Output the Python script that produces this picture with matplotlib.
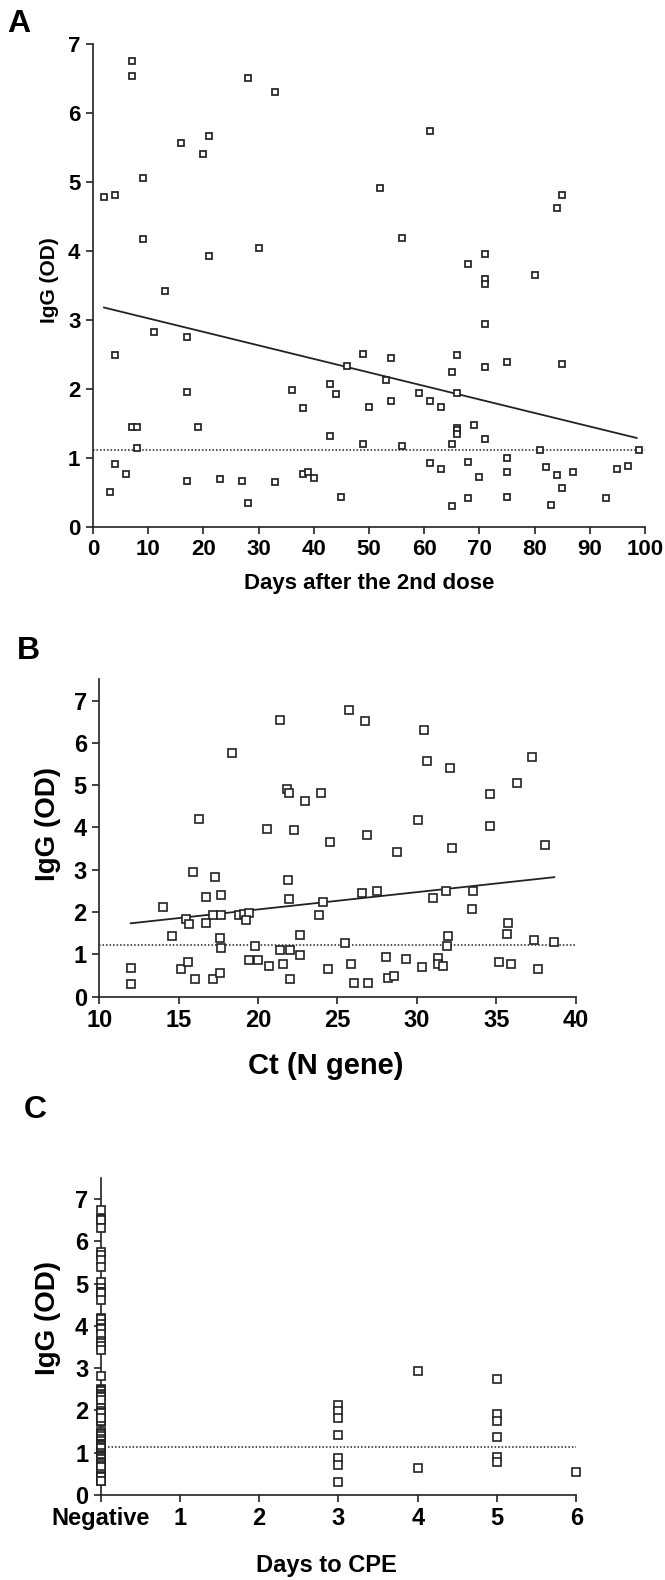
import numpy as np
import matplotlib.pyplot as plt

plt.rcParams['font.family'] = ['Liberation Sans', 'DejaVu Sans']
plt.rcParams['font.weight'] = 'bold'

# ---- panel A: IgG vs days after 2nd dose ----
a_days = [7, 7, 28, 33, 16, 21, 20, 9, 2, 4, 9, 21, 30, 13,
          61, 52, 85, 84, 56, 71, 68, 80, 71, 71,
          11, 17, 4, 17, 36, 43, 44, 38, 7, 8, 19, 43, 8, 4, 6, 3, 17, 23, 27,
          28, 33, 38, 39, 40, 45,
          71, 49, 54, 66, 75, 85, 46, 71, 65, 53, 59, 66, 61, 63, 54, 50, 69,
          66, 66, 66, 71, 49, 56, 65, 81, 99, 75, 61, 63, 68, 70, 75, 82, 84,
          87, 85, 95, 97, 68, 75, 65, 83, 93]
a_igg = [6.75, 6.53, 6.50, 6.31, 5.56, 5.67, 5.40, 5.05, 4.78, 4.81, 4.17, 3.93, 4.04, 3.42,
         5.74, 4.91, 4.81, 4.62, 4.19, 3.95, 3.81, 3.65, 3.59, 3.52,
         2.82, 2.75, 2.49, 1.95, 1.98, 2.07, 1.92, 1.73, 1.45, 1.45, 1.45, 1.32, 1.15, 0.91,
         0.77, 0.50, 0.66, 0.69, 0.66, 0.34, 0.65, 0.76, 0.79, 0.71, 0.43,
         2.94, 2.51, 2.45, 2.49, 2.39, 2.36, 2.33, 2.32, 2.24, 2.13, 1.94, 1.94, 1.83, 1.74,
         1.82, 1.74, 1.48, 1.44, 1.40, 1.35, 1.28, 1.20, 1.18, 1.20, 1.12, 1.12, 1.00, 0.92,
         0.84, 0.94, 0.72, 0.79, 0.87, 0.75, 0.79, 0.56, 0.84, 0.89, 0.42, 0.44, 0.31, 0.32, 0.42]
a_fit = (3.219, -0.01959)   # intercept, slope
a_cut = 1.12

# ---- panel B: IgG vs Ct (N gene) ----
b_ct = [21.38, 18.34, 25.72, 26.73, 30.47, 30.66, 32.10, 37.25, 36.30, 34.60, 34.62, 30.07,
        26.88, 28.75, 32.23, 38.05,
        21.84, 21.95, 22.97, 23.98, 16.28, 20.58, 22.28, 24.55,
        15.88, 17.31, 21.86, 16.72, 17.64, 21.95, 24.10, 14.01, 17.18, 17.66, 18.78, 19.11,
        19.45, 23.81, 15.48, 15.67, 16.74, 19.22, 14.56, 22.66, 17.62, 17.66, 19.83, 21.40,
        22.03, 22.64, 12.02, 11.98, 15.14, 15.60, 16.00, 17.18, 17.58, 19.43, 19.97, 20.69,
        21.55, 22.03, 24.38,
        26.56, 27.50, 31.03, 31.83, 33.51, 33.47, 35.72, 35.67, 31.98, 31.88, 25.49, 37.37,
        38.65, 25.85, 28.05, 29.29, 30.34, 31.31, 31.31, 31.62, 35.19, 35.90, 37.64, 26.04,
        26.92, 28.20, 28.54]
b_igg = [6.54, 5.75, 6.77, 6.52, 6.31, 5.58, 5.41, 5.67, 5.06, 4.79, 4.04, 4.18,
         3.82, 3.41, 3.52, 3.58,
         4.92, 4.81, 4.63, 4.82, 4.19, 3.96, 3.93, 3.66,
         2.95, 2.82, 2.75, 2.36, 2.40, 2.32, 2.24, 2.13, 1.94, 1.94, 1.92, 1.95,
         1.97, 1.94, 1.83, 1.72, 1.74, 1.81, 1.43, 1.45, 1.38, 1.14, 1.19, 1.11,
         1.11, 0.99, 0.68, 0.30, 0.65, 0.83, 0.42, 0.41, 0.55, 0.87, 0.86, 0.73,
         0.77, 0.42, 0.65,
         2.44, 2.49, 2.33, 2.49, 2.49, 2.07, 1.74, 1.47, 1.44, 1.19, 1.28, 1.33,
         1.30, 0.78, 0.93, 0.90, 0.71, 0.91, 0.77, 0.73, 0.82, 0.78, 0.65, 0.33,
         0.32, 0.43, 0.50]
b_fit = (1.244, 0.0409)
b_cut = 1.21

# ---- panel C: IgG vs days to CPE (0 = negative) ----
c_neg = [6.75, 6.53, 6.50, 6.31, 5.74, 5.67, 5.56, 5.40, 5.05, 4.91, 4.81, 4.81, 4.78,
         4.62, 4.19, 4.17, 4.04, 3.95, 3.93, 3.81, 3.65, 3.59, 3.52, 3.42, 2.82, 2.51,
         2.49, 2.49, 2.45, 2.39, 2.36, 2.33, 2.32, 2.24, 2.07, 1.98, 1.95, 1.94, 1.94,
         1.73, 1.74, 1.82, 1.48, 1.45, 1.45, 1.44, 1.40, 1.32, 1.28, 1.20, 1.20, 1.18,
         1.15, 1.12, 1.12, 1.00, 0.94, 0.92, 0.91, 0.84, 0.84, 0.77, 0.76, 0.75, 0.71,
         0.66, 0.66, 0.50, 0.44, 0.43, 0.42, 0.42, 0.34, 0.32]
c_day3 = [2.13, 1.98, 1.82, 1.43, 0.87, 0.72, 0.30]
c_day4 = [2.94, 0.65]
c_day5 = [2.75, 1.92, 1.74, 1.37, 0.90, 0.79]
c_day6 = [0.55]
c_ticklabels = ['Negative', '1', '2', '3', '4', '5', '6']
c_cut = 1.14

ink = '#222222'
dot = (0, (1, 1.3))


def style(ax, fs):
    for s in ['top', 'right']:
        ax.spines[s].set_visible(False)
    for s in ['left', 'bottom']:
        ax.spines[s].set_linewidth(1.2)
        ax.spines[s].set_color(ink)
    ax.tick_params(direction='out', length=5, width=1.2, color=ink,
                   labelsize=fs, pad=4)


fig = plt.figure(figsize=(6.65, 15.8), dpi=100)

# A
ax = fig.add_axes([0.1398, 0.6665, 0.830, 0.3057])
style(ax, 16)
ax.plot(a_days, a_igg, 's', mfc='white', mec=ink, ms=5.0, mew=1.25, ls='none', clip_on=False, zorder=3)
xx = np.array([min(a_days), max(a_days) - 0.5])
ax.plot(xx, a_fit[0] + a_fit[1] * xx, color=ink, lw=1.3)
ax.axhline(a_cut, ls=dot, lw=1.1, color=ink)
ax.set_xlim(0, 100)
ax.set_ylim(0, 7)
ax.set_xticks(range(0, 101, 10))
ax.set_yticks(range(0, 8))
ax.set_xlabel('Days after the 2nd dose', fontsize=16, fontweight='bold')
ax.set_ylabel('IgG (OD)', fontsize=15, fontweight='bold')
ax.xaxis.set_label_coords(0.5, -0.117)
ax.xaxis.label.set_va('center')
ax.yaxis.set_label_coords(-0.078, 0.51)
ax.yaxis.label.set_va('center')

# B
ax = fig.add_axes([0.1493, 0.3692, 0.7164, 0.2008])
style(ax, 17)
ax.plot(b_ct, b_igg, 's', mfc='white', mec=ink, ms=5.4, mew=1.2, ls='none', clip_on=False, zorder=3)
xx = np.array([min(b_ct), max(b_ct)])
ax.plot(xx, b_fit[0] + b_fit[1] * xx, color=ink, lw=1.3)
ax.axhline(b_cut, ls=dot, lw=1.1, color=ink)
ax.set_xlim(10, 40)
ax.set_ylim(0, 7.5)
ax.set_xticks(range(10, 41, 5))
ax.set_yticks(range(0, 8))
ax.set_xlabel('Ct (N gene)', fontsize=21, fontweight='bold')
ax.set_ylabel('IgG (OD)', fontsize=20, fontweight='bold')
ax.xaxis.set_label_coords(0.475, -0.218)
ax.xaxis.label.set_va('center')
ax.yaxis.set_label_coords(-0.107, 0.545)
ax.yaxis.label.set_va('center')

# C
ax = fig.add_axes([0.1514, 0.0538, 0.7152, 0.2006])
style(ax, 17)
groups = [(0, c_neg), (3, c_day3), (4, c_day4), (5, c_day5), (6, c_day6)]
for d, vals in groups:
    ax.plot([d] * len(vals), vals, 's', mfc='white', mec=ink, ms=5.4, mew=1.2,
            ls='none', clip_on=False, zorder=3)
ax.axhline(c_cut, ls=dot, lw=1.1, color=ink)
ax.set_xlim(0, 6)
ax.set_ylim(0, 7.5)
ax.set_xticks(range(0, 7))
ax.set_xticklabels(c_ticklabels)
ax.set_yticks(range(0, 8))
ax.set_xlabel('Days to CPE', fontsize=17, fontweight='bold')
ax.set_ylabel('IgG (OD)', fontsize=20, fontweight='bold')
ax.xaxis.set_label_coords(0.475, -0.221)
ax.xaxis.label.set_va('center')
ax.yaxis.set_label_coords(-0.11, 0.56)
ax.yaxis.label.set_va('center')

# panel letters
fig.text(7 / 665, 1 - 32 / 1580, 'A', fontsize=23, fontweight='bold', va='baseline')
fig.text(17 / 665, 1 - 659 / 1580, 'B', fontsize=23, fontweight='bold', va='baseline')
fig.text(24 / 665, 1 - 1118 / 1580, 'C', fontsize=23, fontweight='bold', va='baseline')

fig.savefig('out.png', dpi=100)
